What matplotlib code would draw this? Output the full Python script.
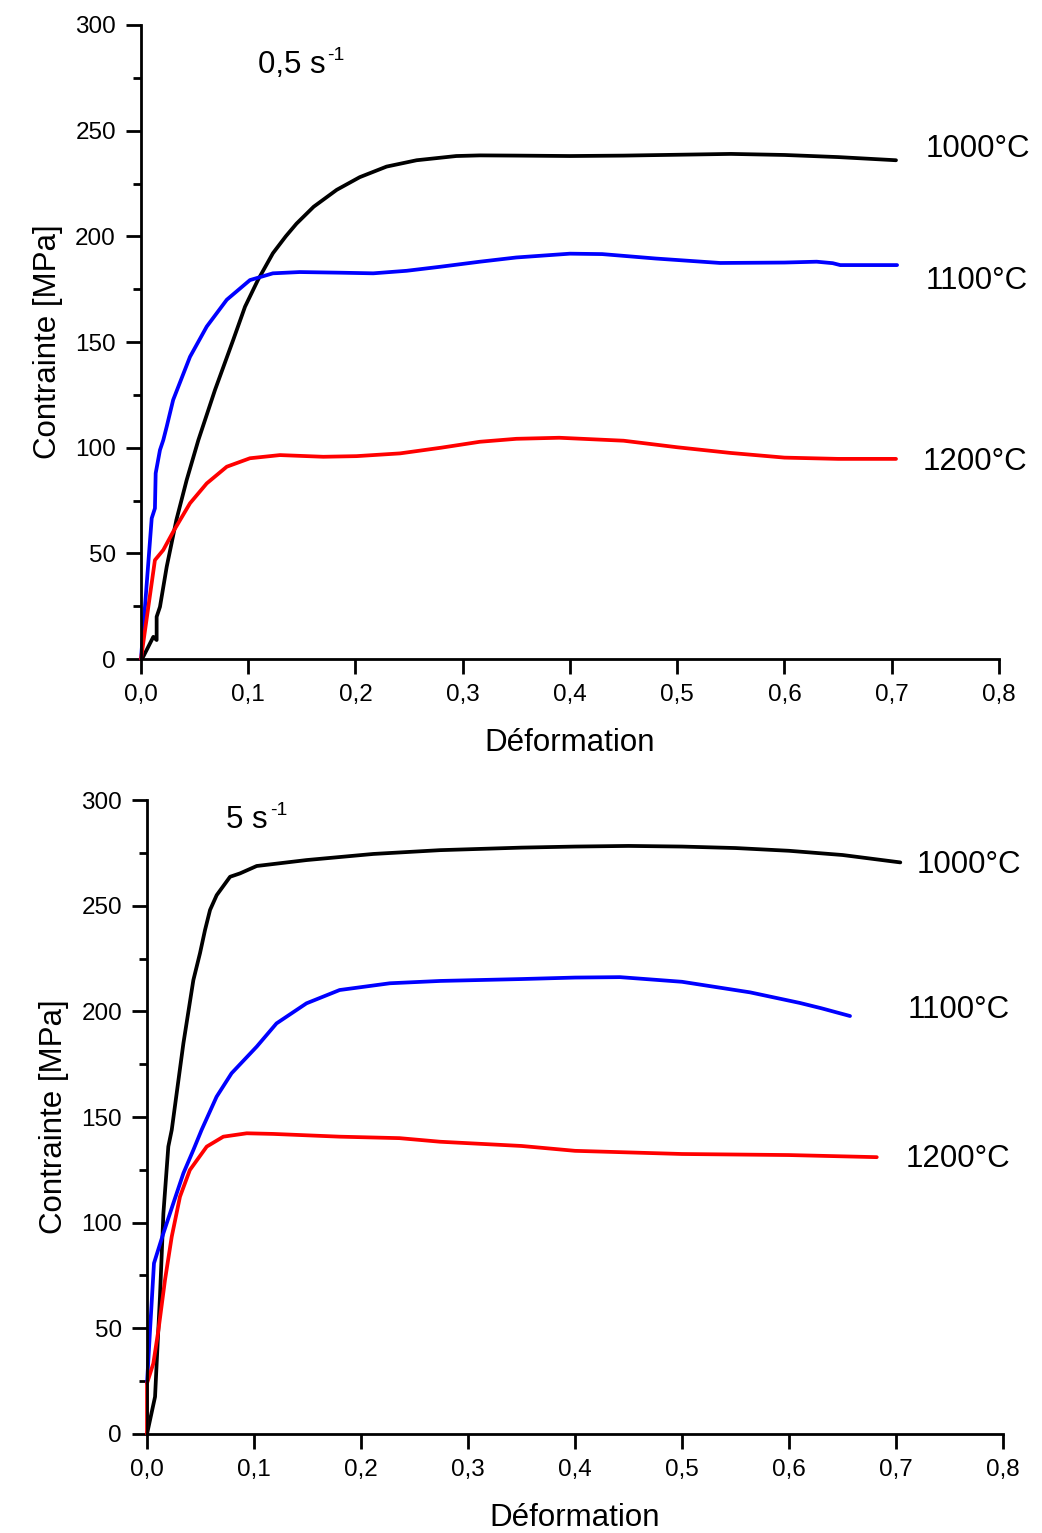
import matplotlib
matplotlib.use("Agg")
import matplotlib.pyplot as plt
from matplotlib.ticker import MultipleLocator, FuncFormatter

plt.rcParams['font.family'] = ['Liberation Sans', 'DejaVu Sans']

# ---------------- Data: 0.5 s^-1 ----------------
a_1000_x = [0.0, 0.002, 0.0115, 0.0146, 0.0146, 0.0177, 0.024, 0.033, 0.0426, 0.0535, 0.069, 0.086,
            0.097, 0.109, 0.123, 0.135, 0.145, 0.161, 0.1825, 0.204, 0.229, 0.257, 0.294, 0.316, 0.35,
            0.4, 0.45, 0.5, 0.55, 0.6, 0.65, 0.704]
a_1000_y = [0.0, 1, 10.5, 9, 20, 24.7, 43.7, 65.8, 84.7, 103.6, 127.3, 151,
            166.7, 179.3, 192, 200, 206, 214, 222, 228, 233, 236, 238, 238.3, 238.2,
            238, 238.2, 238.6, 239, 238.5, 237.5, 236]

a_1100_x = [0.0, 0.010, 0.013, 0.0137, 0.0177, 0.0208, 0.024, 0.030, 0.0457, 0.0613, 0.080, 0.1016,
            0.123, 0.148, 0.1855, 0.2166, 0.2477, 0.279, 0.316, 0.35, 0.4, 0.43, 0.48, 0.54,
            0.6, 0.63, 0.645, 0.652, 0.705]
a_1100_y = [0.0, 66.6, 71.3, 87.9, 98.9, 103.6, 110, 122.6, 143, 157.3, 170, 179.3,
            182.5, 183.1, 182.8, 182.5, 183.7, 185.6, 188, 190, 191.8, 191.6, 189.5, 187.4,
            187.6, 188, 187.3, 186.4, 186.4]

a_1200_x = [0.0, 0.013, 0.0208, 0.030, 0.0457, 0.0613, 0.080, 0.1016, 0.1296, 0.170, 0.201, 0.2415,
            0.28, 0.316, 0.35, 0.39, 0.45, 0.5, 0.55, 0.6, 0.65, 0.704]
a_1200_y = [0.0, 46.8, 51.6, 60.2, 73.7, 83.1, 91, 95, 96.5, 95.7, 96, 97.3,
            100, 102.8, 104.2, 104.7, 103.3, 100.2, 97.5, 95.3, 94.7, 94.7]

# ---------------- Data: 5 s^-1 ----------------
b_1000_x = [0.0, 0.0028, 0.0075, 0.009, 0.0121, 0.0153, 0.0199, 0.0231, 0.034, 0.0433, 0.0495,
            0.0542, 0.0589, 0.0651, 0.0776, 0.0869, 0.1025, 0.149, 0.2115, 0.274, 0.35, 0.4,
            0.45, 0.5, 0.55, 0.6, 0.65, 0.704]
b_1000_y = [0.0, 6.6, 17.6, 33.4, 65, 104.4, 136, 143.9, 184.9, 214.8, 227.5,
            238.5, 248, 255, 263.7, 265.3, 268.8, 271.6, 274.5, 276.3, 277.5, 278,
            278.3, 278, 277.3, 276, 274, 270.5]

b_1100_x = [0.0, 0.0028, 0.0065, 0.0153, 0.0246, 0.034, 0.0433, 0.051, 0.065, 0.079, 0.1025,
            0.121, 0.149, 0.180, 0.227, 0.274, 0.35, 0.4, 0.442, 0.5, 0.5636, 0.61, 0.63, 0.657]
b_1100_y = [24, 49, 80.8, 95, 109.2, 123.4, 134.4, 143.9, 159.6, 170.7, 183.3,
            194.3, 203.8, 210.1, 213.3, 214.4, 215.3, 216, 216.2, 214, 209, 204, 201.5, 197.8]

b_1200_x = [0.0, 0.0, 0.0059, 0.0106, 0.0168, 0.0231, 0.0308, 0.040, 0.0558, 0.0713, 0.0932,
            0.118, 0.180, 0.236, 0.274, 0.35, 0.4, 0.5, 0.6, 0.682]
b_1200_y = [0.0, 24, 33.4, 49, 72.9, 93.4, 112.3, 124.9, 136, 140.7, 142.3,
            142, 140.7, 140, 138.3, 136.3, 134, 132.5, 132, 131]

x_ticks = [0.0, 0.1, 0.2, 0.3, 0.4, 0.5, 0.6, 0.7, 0.8]
y_ticks = [0, 50, 100, 150, 200, 250, 300]
temp_labels = ["1000°C", "1100°C", "1200°C"]
colors = ["black", "#0000ff", "#ff0000"]

fig = plt.figure(figsize=(10.42, 15.33), dpi=100)
ax1 = fig.add_axes([0.1353, 0.5701, 0.9587 - 0.1353, 0.9837 - 0.5701])
ax2 = fig.add_axes([0.1411, 0.0646, 0.9626 - 0.1411, 0.4781 - 0.0646])

comma = FuncFormatter(lambda v, p: f"{v:.1f}".replace(".", ","))


def style(ax):
    ax.set_xlim(0, 0.8)
    ax.set_ylim(0, 300)
    ax.set_xticks(x_ticks)
    ax.set_yticks(y_ticks)
    ax.yaxis.set_minor_locator(MultipleLocator(25))
    ax.xaxis.set_major_formatter(comma)
    for s in ["top", "right"]:
        ax.spines[s].set_visible(False)
    for s in ["left", "bottom"]:
        ax.spines[s].set_linewidth(2)
    ax.tick_params(which="major", direction="out", length=11, width=2, labelsize=17.5, pad=7)
    ax.tick_params(which="minor", direction="out", length=6, width=2)
    ax.set_xlabel("Déformation", fontsize=22.5, labelpad=16)
    ax.set_ylabel("Contrainte [MPa]", fontsize=22.5, labelpad=9)
    ax.patch.set_alpha(0)


series_a = [(a_1000_x, a_1000_y), (a_1100_x, a_1100_y), (a_1200_x, a_1200_y)]
series_b = [(b_1000_x, b_1000_y), (b_1100_x, b_1100_y), (b_1200_x, b_1200_y)]

for (x, y), c in zip(series_a, colors):
    ax1.plot(x, y, color=c, lw=2.7, clip_on=False, solid_joinstyle="round", solid_capstyle="round")
for (x, y), c in zip(series_b, colors):
    ax2.plot(x, y, color=c, lw=2.7, clip_on=False, solid_joinstyle="round", solid_capstyle="round")

style(ax1)
style(ax2)


def rate_label(ax, x, y, base):
    t = ax.text(x, y, base, fontsize=22.5, va="center", ha="left")
    ax.annotate("-1", xy=(1, 0.82), xycoords=t, fontsize=14, va="center", ha="left",
                xytext=(1.5, 0), textcoords="offset points")


rate_label(ax1, 0.109, 281, "0,5 s")
for lab, (xx, yy) in zip(temp_labels, [(0.732, 241.5), (0.732, 179), (0.729, 93)]):
    ax1.text(xx, yy, lab, fontsize=22.5, va="center", ha="left")

rate_label(ax2, 0.074, 290.5, "5 s")
for lab, (xx, yy) in zip(temp_labels, [(0.719, 269.5), (0.711, 200.5), (0.709, 130.3)]):
    ax2.text(xx, yy, lab, fontsize=22.5, va="center", ha="left")

fig.savefig("out.png", dpi=100, facecolor="white")
